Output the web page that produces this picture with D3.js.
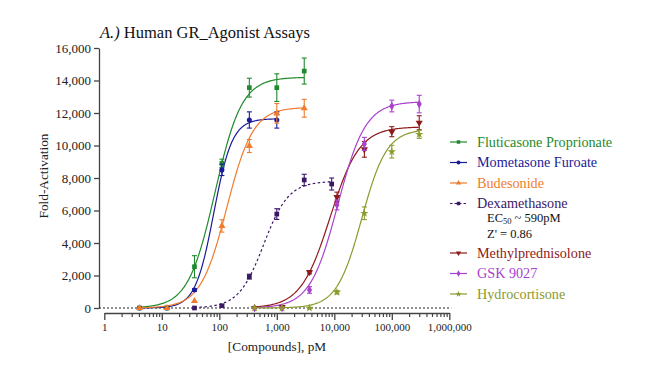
<!DOCTYPE html>
<html>
<head>
<meta charset="utf-8">
<script src="https://cdn.jsdelivr.net/npm/d3@7"></script>
<style>
  html, body { margin: 0; padding: 0; background: #fff; }
  svg text { font-family: "Liberation Serif", "Times New Roman", "DejaVu Serif", serif; }
</style>
</head>
<body>
<svg id="chart" width="650" height="377"></svg>
<script>
// ---------------- data ----------------
const seriesNames = ["Fluticasone Proprionate", "Mometasone Furoate", "Budesonide", "Dexamethasone", "Methylprednisolone", "GSK 9027", "Hydrocortisone"];
const seriesColors = ["#1f8a2c", "#1b1b9a", "#ef7c2e", "#3b1866", "#8e1a1a", "#a941cf", "#8c9a2e"];
const seriesSymbols = ["square", "circle", "triangle", "square", "triangleDown", "diamond", "star"];

const concA = [4.1, 12.3, 37, 111, 333, 1000, 3000];
const concM = [4.1, 12.3, 37, 111, 333, 1000];
const concD = [37, 111, 333, 1000, 3000, 9000];
const concB = [411, 1235, 3704, 11111, 33333, 100000, 300000];

const fluticasone = [0, 0, 2540, 8900, 13560, 13560, 14580];
const fluticasoneErr = [0, 0, 680, 260, 580, 850, 800];
const mometasone = [0, 0, 1110, 8500, 11570, 11570];
const mometasoneErr = [0, 0, 80, 350, 500, 500];
const budesonide = [0, 0, 430, 5050, 9970, 11980, 12290];
const budesonideErr = [0, 0, 0, 380, 400, 600, 550];
const dexamethasone = [0, 140, 1930, 5780, 7880, 7630];
const dexamethasoneErr = [0, 60, 150, 330, 350, 370];
const methylpred = [0, 60, 2200, 6830, 9760, 10850, 11400];
const methylpredErr = [0, 0, 100, 300, 480, 310, 430];
const gsk9027 = [0, 0, 1110, 6340, 10100, 12430, 12550];
const gsk9027Err = [0, 0, 200, 300, 400, 360, 540];
const hydrocortisone = [0, 0, 0, 970, 5830, 9620, 10690];
const hydrocortisoneErr = [0, 0, 0, 100, 390, 390, 250];

// fitted 4PL curve parameters (bottom = 0)
const fitTop = [14200, 11650, 12350, 7800, 11150, 12700, 11000];
const fitEC50 = [84, 80, 135, 590, 8450, 11500, 30000];
const fitHill = [1.86, 2.7, 1.9, 2.0, 1.7, 1.8, 2.0];

const yTicks = [0, 2000, 4000, 6000, 8000, 10000, 12000, 14000, 16000];
const xTicks = [1, 10, 100, 1000, 10000, 100000, 1000000];

const title = "Human GR_Agonist Assays";
const titlePrefix = "A.)";
const xLabel = "[Compounds], pM";
const yLabel = "Fold-Activation";

// ---------------- build ----------------
const FONT = "'Liberation Serif', 'Times New Roman', 'DejaVu Serif', serif";
const series = [
  { c: concA, v: fluticasone, e: fluticasoneErr },
  { c: concM, v: mometasone, e: mometasoneErr },
  { c: concA, v: budesonide, e: budesonideErr },
  { c: concD, v: dexamethasone, e: dexamethasoneErr },
  { c: concB, v: methylpred, e: methylpredErr },
  { c: concB, v: gsk9027, e: gsk9027Err },
  { c: concB, v: hydrocortisone, e: hydrocortisoneErr }
].map((s, i) => ({ ...s, name: seriesNames[i], color: seriesColors[i], sym: seriesSymbols[i],
  top: fitTop[i], ec50: fitEC50[i], hill: fitHill[i], dashed: i === 3 }));

const svg = d3.select("#chart").attr("font-family", FONT);
const x = d3.scaleLog().domain([1, 1e6]).range([104.3, 449.3]);
const y = d3.scaleLinear().domain([0, 16000]).range([308, 48]);

const symType = {
  square: d3.symbolSquare, circle: d3.symbolCircle, triangle: d3.symbolTriangle,
  diamond: d3.symbolDiamond, star: d3.symbolStar, triangleDown: d3.symbolTriangle
};
function symbolPath(name, size) {
  return d3.symbol().type(symType[name]).size(size)();
}

// Y axis
const yAxis = svg.append("g").attr("transform", "translate(99,0)")
  .call(d3.axisLeft(y).tickValues(yTicks).tickSize(5).tickSizeOuter(0).tickPadding(3).tickFormat(d3.format(",")));
yAxis.attr("font-family", FONT).attr("font-size", 13);
yAxis.select(".domain").attr("stroke", "#444").attr("stroke-width", 1.3);
yAxis.selectAll(".tick line").attr("stroke", "#444").attr("stroke-width", 1.3);
yAxis.selectAll("text").attr("font-family", FONT).attr("font-size", 13).attr("fill", "#222");

// X axis
const minor = [];
for (let d = 1; d < 1e6; d *= 10) for (let k = 2; k <= 9; k++) minor.push(d * k);
const xg = svg.append("g").attr("transform", "translate(0,313)");
xg.call(d3.axisBottom(x).tickValues(minor).tickSize(4).tickSizeOuter(0).tickFormat(""));
xg.call(g => g.selectAll(".tick line").attr("stroke", "#444").attr("stroke-width", 1.2));
xg.select(".domain").remove();
const xg2 = svg.append("g").attr("transform", "translate(0,313)");
xg2.call(d3.axisBottom(x).tickValues(xTicks).tickSize(7).tickSizeOuter(0).tickPadding(3).tickFormat(d3.format(",")));
xg2.attr("font-family", FONT).attr("font-size", 11);
xg2.select(".domain").attr("stroke", "#444").attr("stroke-width", 1.3);
xg2.selectAll(".tick line").attr("stroke", "#444").attr("stroke-width", 1.3);
xg2.selectAll("text").attr("font-family", FONT).attr("font-size", 11).attr("fill", "#222");

// dotted baseline at zero
svg.append("line").attr("x1", 99).attr("x2", x(1e6) + 2).attr("y1", y(0)).attr("y2", y(0))
  .attr("stroke", "#222").attr("stroke-width", 1.1).attr("stroke-dasharray", "2,2");

// title
const t = svg.append("text").attr("x", 100).attr("y", 38).attr("font-size", 16.5).attr("fill", "#111");
t.append("tspan").attr("font-style", "italic").text(titlePrefix);
t.append("tspan").text(" " + title);

// axis labels
svg.append("text").attr("x", 277).attr("y", 351).attr("text-anchor", "middle")
  .attr("font-size", 13.3).attr("fill", "#222").text(xLabel);
svg.append("text").attr("transform", "translate(48,176) rotate(-90)").attr("text-anchor", "middle")
  .attr("font-size", 13.3).attr("fill", "#222").text(yLabel);

// curves
const line = d3.line().x(d => x(d[0])).y(d => y(d[1]));
series.forEach(s => {
  const lo = Math.log10(s.c[0]), hi = Math.log10(s.c[s.c.length - 1]);
  const pts = d3.range(0, 201).map(i => {
    const cx = Math.pow(10, lo + (hi - lo) * i / 200);
    return [cx, s.top / (1 + Math.pow(s.ec50 / cx, s.hill))];
  });
  svg.append("path").attr("d", line(pts)).attr("fill", "none")
    .attr("stroke", s.color).attr("stroke-width", 1.2)
    .attr("stroke-dasharray", s.dashed ? "2.5,2.5" : null);
});

// points & error bars
series.forEach(s => {
  const g = svg.append("g");
  s.c.forEach((c, i) => {
    const cx = x(c), v = s.v[i], e = s.e[i];
    if (e > 0) {
      g.append("line").attr("x1", cx).attr("x2", cx).attr("y1", y(v - e)).attr("y2", y(v + e))
        .attr("stroke", s.color).attr("stroke-width", 1.1);
      [v - e, v + e].forEach(b => g.append("line").attr("x1", cx - 2.5).attr("x2", cx + 2.5)
        .attr("y1", y(b)).attr("y2", y(b)).attr("stroke", s.color).attr("stroke-width", 1.1));
    }
    g.append("path").attr("d", symbolPath(s.sym, s.sym === "circle" ? 20 : 22))
      .attr("transform", `translate(${cx},${y(v)})` + (s.sym === "triangleDown" ? " rotate(180)" : ""))
      .attr("fill", s.color);
  });
});

// legend
const legendRows = [142, 162.5, 183, 203.5, 253, 273.5, 294];
series.forEach((s, i) => {
  const ly = legendRows[i];
  svg.append("line").attr("x1", 450).attr("x2", 467).attr("y1", ly).attr("y2", ly)
    .attr("stroke", s.color).attr("stroke-width", 1.2).attr("stroke-dasharray", s.dashed ? "2.5,2" : null);
  svg.append("path").attr("d", symbolPath(s.sym, 12))
    .attr("transform", `translate(458.5,${ly})` + (s.sym === "triangleDown" ? " rotate(180)" : ""))
    .attr("fill", s.color);
  svg.append("text").attr("x", 477).attr("y", ly + 4.8).attr("font-size", 14.2)
    .attr("fill", s.color).text(s.name);
});
const ec = svg.append("text").attr("x", 487).attr("y", 221.5).attr("font-size", 12.5).attr("fill", "#111");
ec.append("tspan").text("EC");
ec.append("tspan").attr("font-size", 8.5).attr("dy", 2.5).text("50");
ec.append("tspan").attr("dy", -2.5).text(" ~ 590pM");
svg.append("text").attr("x", 487).attr("y", 237.5).attr("font-size", 12.5).attr("fill", "#111").text("Z' = 0.86");
</script>
</body>
</html>
